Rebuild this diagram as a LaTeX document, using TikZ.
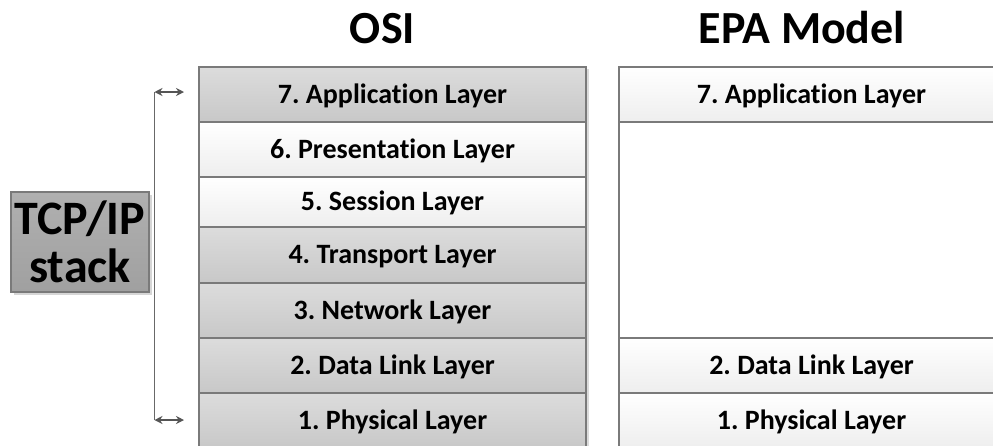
\documentclass[tikz,border=0pt]{standalone}
\usepackage{fontspec}
\setmainfont{Carlito}[Ligatures=NoCommon]
\frenchspacing
\usetikzlibrary{arrows.meta,shadows}

\definecolor{edgegray}{HTML}{7A7A7A}
\definecolor{graytop}{HTML}{DCDCDC}
\definecolor{graybot}{HTML}{C8C8C8}
\definecolor{whitetop}{HTML}{FFFFFF}
\definecolor{whitebot}{HTML}{EEEEEE}
\definecolor{stacktop}{HTML}{B0B0B0}
\definecolor{stackbot}{HTML}{A0A0A0}
\definecolor{arrowgray}{HTML}{555555}

\tikzset{
  layer/.style={draw=edgegray, line width=1.2pt, inner sep=0pt,
    minimum width=#1, font=\fontsize{28}{32}\selectfont\bfseries,
    text height=22pt, text depth=5pt,
    drop shadow={shadow xshift=2.5pt, shadow yshift=-2pt, fill=black!14, opacity=1}},
  graylayer/.style={layer=#1, top color=graytop, bottom color=graybot},
  whitelayer/.style={layer=#1, top color=whitetop, bottom color=whitebot},
  title/.style={font=\fontsize{46}{50}\selectfont\bfseries, anchor=base},
  stackbox/.style={draw=edgegray, line width=1.2pt, inner sep=0pt,
    minimum width=138pt, minimum height=100pt,
    top color=stacktop, bottom color=stackbot, align=center,
    font=\fontsize{48}{48}\selectfont\bfseries,
    drop shadow={shadow xshift=2.5pt, shadow yshift=-2.5pt, fill=black!16, opacity=1}},
  brace/.style={draw=edgegray!85!black, line width=1.2pt},
  twoway/.style={draw=arrowgray, line width=1.2pt,
    {Stealth[length=8pt,width=8pt]}-{Stealth[length=8pt,width=8pt]}}
}

\begin{document}
\begin{tikzpicture}[x=1pt,y=-1pt]
\useasboundingbox (0,0) rectangle (993,445);
\clip (0,0) rectangle (993,445);
\fill[white] (0,0) rectangle (993,445);

% column headings
\node[title] (osititle) at (382.5,43) {OSI};
\node[title] (epatitle) at (802,43) {EPA Model};

% OSI reference model, layers 7 to 1
\node[graylayer=387pt, minimum height=55pt]  (osi7) at (392.5,94.5)  {7. Application Layer};
\node[whitelayer=387pt, minimum height=55pt] (osi6) at (392.5,149.5) {6. Presentation Layer};
\node[whitelayer=387pt, minimum height=50pt] (osi5) at (392.5,202)   {5. Session Layer};
\node[graylayer=387pt, minimum height=56pt]  (osi4) at (392.5,255)   {4. Transport Layer};
\node[graylayer=387pt, minimum height=55pt]  (osi3) at (392.5,310.5) {3. Network Layer};
\node[graylayer=387pt, minimum height=55pt]  (osi2) at (392.5,365.5) {2. Data Link Layer};
\node[graylayer=387pt, minimum height=55pt]  (osi1) at (392.5,420.5) {1. Physical Layer};

% EPA model: application, data link and physical layers only
\node[whitelayer=385pt, minimum height=55pt]  (epa7) at (811.5,94.5) {7. Application Layer};
\node[layer=385pt, fill=white, minimum height=216pt] (epagap) at (811.5,230) {};
\node[whitelayer=385pt, minimum height=55pt]  (epa2) at (811.5,365.5) {2. Data Link Layer};
\node[whitelayer=385pt, minimum height=55pt]  (epa1) at (811.5,420.5) {1. Physical Layer};

% TCP/IP stack label with its bracket
\node[stackbox] (tcpip) at (80,242) {TCP/IP\\stack};

\coordinate (braceTop) at (154.5,92);
\coordinate (braceBot) at (154.5,420);
\coordinate (tipTop) at (184,92);
\coordinate (tipBot) at (184,420);
\draw[brace] (braceTop) -- (braceBot);
\draw[twoway] (braceTop) -- (tipTop);
\draw[twoway] (braceBot) -- (tipBot);
\end{tikzpicture}
\end{document}
